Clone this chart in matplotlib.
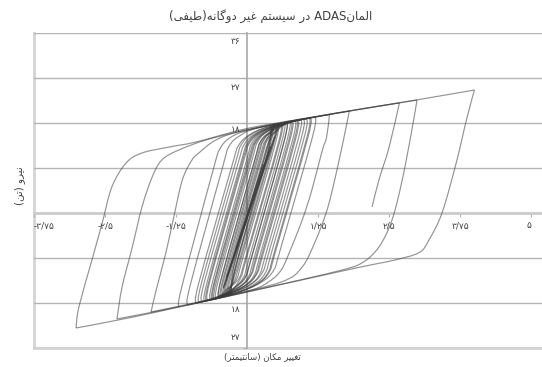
import re

import matplotlib
matplotlib.use("Agg")
import matplotlib.pyplot as plt
from matplotlib.path import Path
from matplotlib.patches import PathPatch

TITLE = "المانADAS در سیستم غیر دوگانه(طیفی)"
X_LABEL = "تغییر مکان (سانتیمتر)"
Y_LABEL = "نیرو (تن)"

X_TICKS = [-3.75, -2.5, -1.25, 0, 1.25, 2.5, 3.75, 5]
X_TICK_LABELS = ["-۳/۷۵", "-۲/۵", "-۱/۲۵", "", "۱/۲۵", "۲/۵", "۳/۷۵", "۵"]
Y_GRID = [-27, -18, -9, 0, 9, 18, 27, 36]
Y_LABEL_VALUES = [36, 27, 18, -18, -27]
Y_TICK_LABELS = ["۳۶", "۲۷", "۱۸", "۱۸", "۲۷"]

# hysteresis loops (displacement cm, force t)
outer_x = [-3.01, -2.96, -2.73, -2.55, -2.38, -2.13, -1.85, -1.37, -0.90, 0.0, 1.0, 2.0, 3.03, 4.00,
           3.86, 3.68, 3.43, 3.20, 3.03, 2.6, 2.0, 1.0, 0.0, -1.0, -2.0, -3.01]
outer_y = [-23.0, -18.8, -9.4, -2.0, 5.2, 10.0, 12.0, 13.2, 14.2, 16.9, 18.9, 20.8, 22.7, 24.6,
           18.6, 10.0, 0.0, -5.4, -7.9, -9.4, -10.8, -13.3, -15.8, -18.3, -20.8, -23.0]
loop_b_x = [-2.29, -2.20, -2.02, -1.85, -1.67, -1.50, -1.20, -0.6, 0.5, 1.5, 2.99,
            2.90, 2.73, 2.55, 2.32, 2.02, 1.6, 0.5, -1.0, -2.29]
loop_b_y = [-21.2, -14.8, -6.8, 1.2, 7.2, 10.6, 12.6, 15.0, 17.8, 19.8, 22.6,
            16.6, 6.6, -1.4, -6.8, -10.0, -11.6, -14.5, -18.3, -21.2]
loop_c_x = [-1.69, -1.60, -1.43, -1.29, -1.14, -0.97, -0.85, -0.55, -0.1, 0.8, 1.80,
            1.67, 1.50, 1.39, 1.21, 0.97, 0.6, -0.5, -1.69]
loop_c_y = [-19.8, -15.4, -8.0, -0.8, 6.6, 10.6, 12.0, 14.6, 16.4, 18.4, 20.4,
            13.2, 4.6, 0.0, -5.4, -10.8, -13.8, -16.9, -19.8]
last_x = [-1.20, -1.15, -0.60, -0.48, -0.28, 0.1, 1.0, 2.0, 2.68, 2.50, 2.32, 2.20]
last_y = [-18.8, -14.8, 8.5, 12.8, 15.2, 16.8, 18.8, 20.8, 22.0, 13.2, 6.6, 1.2]
loop_e_x = [-1.05, -1.00, -0.44, -0.32, -0.12, 0.23, 1.45, 1.40, 1.32, 1.14, 0.97, 0.74, 0.6, 0.4, 0.05, -1.05]
loop_e_y = [-18.4, -14.4, 8.8, 13.3, 15.5, 17.1, 19.7, 15.2, 12.4, 4.6, -1.4, -8.0, -11.4, -13.6, -15.5, -18.4]
loop_f_x = [-0.9, -0.85, -0.27, -0.15, 0.05, 0.40, 1.2, 1.15, 0.59, 0.47, 0.27, -0.08, -0.9]
loop_f_y = [-18.0, -14.0, 9.3, 13.5, 15.7, 17.3, 19.2, 15.2, -7.1, -11.4, -13.7, -15.5, -18.0]
loop_g_x = [-0.8, -0.75, -0.17, -0.05, 0.15, 0.50, 1.0, 0.95, 0.39, 0.27, 0.07, -0.28, -0.8]
loop_g_y = [-17.8, -13.7, 9.5, 13.7, 15.9, 17.5, 18.8, 14.8, -7.6, -11.9, -14.2, -16.0, -17.8]
loop_h_x = [-0.7, -0.65, -0.08, 0.04, 0.24, 0.59, 0.9, 0.85, 0.29, 0.17, -0.03, -0.38, -0.7]
loop_h_y = [-17.5, -13.4, 9.6, 13.9, 16.1, 17.7, 18.6, 14.6, -7.9, -12.2, -14.5, -16.3, -17.5]
loop_i_x = [-0.6, -0.55, 0.02, 0.14, 0.34, 0.69, 0.8, 0.75, 0.19, 0.07, -0.13, -0.48, -0.6]
loop_i_y = [-17.3, -13.1, 9.8, 14.1, 16.3, 17.9, 18.4, 14.4, -8.1, -12.4, -14.7, -16.5, -17.3]
loop_j_x = [-0.5, -0.45, 0.12, 0.24, 0.44, 0.7, 0.65, 0.09, -0.03, -0.23, -0.5]
loop_j_y = [-17.0, -12.9, 10.0, 14.3, 16.5, 18.2, 14.2, -8.4, -12.7, -15.0, -17.0]
loop_k_x = [-0.42, -0.37, 0.20, 0.32, 0.52, 0.6, 0.55, -0.02, -0.14, -0.34, -0.42]
loop_k_y = [-16.8, -12.7, 10.2, 14.4, 16.6, 18.0, 14.0, -8.7, -13.0, -15.3, -16.8]
loop_l_x = [-0.35, -0.30, 0.27, 0.39, 0.5, 0.45, -0.12, -0.24, -0.35]
loop_l_y = [-16.6, -12.5, 10.3, 14.6, 17.8, 13.8, -8.9, -13.2, -16.6]
loop_m_x = [-0.28, -0.23, 0.34, 0.42, 0.37, -0.20, -0.28]
loop_m_y = [-16.4, -12.3, 10.5, 17.6, 13.6, -9.1, -16.4]
loop_n1_x = [-0.65, -0.60, -0.03, 0.09, 0.29, 0.64, 1.1, 1.05, 0.49, 0.37, 0.17, -0.18, -0.65]
loop_n1_y = [-17.4, -13.4, 9.7, 14.1, 16.3, 17.9, 19.0, 15.0, -7.4, -11.9, -14.2, -16.0, -17.4]
loop_n2_x = [-0.55, -0.50, 0.07, 0.19, 0.39, 0.74, 0.95, 0.90, 0.34, 0.22, 0.02, -0.33, -0.55]
loop_n2_y = [-17.2, -13.2, 9.9, 14.3, 16.5, 18.0, 18.8, 14.8, -7.8, -12.3, -14.6, -16.3, -17.2]
loop_n3_x = [-0.45, -0.40, 0.17, 0.29, 0.49, 0.85, 0.80, 0.24, 0.12, -0.08, -0.45]
loop_n3_y = [-16.9, -12.9, 10.1, 14.5, 16.7, 18.6, 14.6, -8.0, -12.5, -14.8, -16.9]
loop_n4_x = [-0.75, -0.70, -0.12, 0.0, 0.20, 0.55, 0.75, 0.70, 0.14, 0.02, -0.18, -0.53, -0.75]
loop_n4_y = [-17.7, -13.7, 9.6, 13.9, 16.1, 17.7, 18.4, 14.4, -8.3, -12.8, -15.1, -16.8, -17.7]
loop_n5_x = [-0.38, -0.33, 0.24, 0.36, 0.56, 0.7, 0.65, 0.09, -0.03, -0.23, -0.38]
loop_n5_y = [-16.8, -12.8, 10.3, 14.6, 16.8, 18.3, 14.3, -8.4, -12.9, -15.2, -16.8]
loop_n6_x = [-0.5, -0.45, 0.12, 0.24, 0.44, 0.55, 0.50, -0.07, -0.19, -0.39, -0.5]
loop_n6_y = [-17.0, -13.0, 10.0, 14.4, 16.6, 18.0, 14.0, -8.8, -13.3, -15.6, -17.0]
loop_p1_x = [-0.62, -0.57, 0.0, 0.12, 0.32, 0.67, 0.88, 0.83, 0.27, 0.15, -0.05, -0.40, -0.62]
loop_p1_y = [-17.4, -13.4, 9.8, 14.1, 16.3, 17.9, 18.6, 14.6, -7.9, -12.4, -14.7, -16.5, -17.4]
loop_p2_x = [-0.47, -0.42, 0.15, 0.27, 0.47, 0.78, 0.73, 0.17, 0.05, -0.15, -0.47]
loop_p2_y = [-17.0, -13.0, 10.1, 14.4, 16.6, 18.4, 14.4, -8.2, -12.7, -15.0, -17.0]
loop_p3_x = [-0.33, -0.28, 0.29, 0.41, 0.62, 0.57, 0.0, -0.12, -0.33]
loop_p3_y = [-16.6, -12.6, 10.4, 14.7, 18.1, 14.1, -8.6, -13.1, -16.6]
loop_p4_x = [-0.58, -0.53, 0.04, 0.16, 0.36, 0.66, 0.61, 0.05, -0.07, -0.27, -0.58]
loop_p4_y = [-17.3, -13.3, 9.9, 14.2, 16.4, 18.2, 14.2, -8.5, -13.0, -15.3, -17.3]
loop_p5_x = [-0.40, -0.35, 0.22, 0.34, 0.52, 0.47, -0.10, -0.22, -0.40]
loop_p5_y = [-16.8, -12.8, 10.2, 14.6, 17.9, 13.9, -8.9, -13.4, -16.8]
loop_p6_x = [-0.72, -0.67, -0.10, 0.02, 0.22, 0.57, 1.05, 1.00, 0.44, 0.32, 0.12, -0.23, -0.72]
loop_p6_y = [-17.6, -13.6, 9.6, 13.9, 16.1, 17.7, 18.9, 14.9, -7.5, -12.0, -14.3, -16.1, -17.6]
loop_p7_x = [-0.85, -0.80, -0.22, -0.10, 0.10, 0.45, 1.12, 1.07, 0.51, 0.39, 0.19, -0.16, -0.85]
loop_p7_y = [-17.9, -13.9, 9.4, 13.7, 15.9, 17.5, 19.1, 15.1, -7.3, -11.8, -14.1, -15.9, -17.9]
loop_p8_x = [-0.30, -0.25, 0.32, 0.46, 0.41, -0.16, -0.30]
loop_p8_y = [-16.6, -12.6, 10.4, 17.8, 13.8, -9.0, -16.6]
elastic_x = [-0.40, 0.50, 0.46, -0.42, -0.40, -0.30, 0.38, 0.35, -0.32]
elastic_y = [-14.6, 15.6, 14.0, -15.0, -14.6, -11.0, 12.5, 11.2, -11.6]
elastic2_x = [-0.20, 0.27, 0.24, -0.22, -0.36, 0.44, 0.41, -0.37]
elastic2_y = [-7.2, 9.4, 8.2, -8.0, -12.8, 14.0, 12.8, -13.6]

LOOPS = [(outer_x, outer_y), (loop_b_x, loop_b_y), (loop_c_x, loop_c_y), (last_x, last_y),
         (loop_e_x, loop_e_y), (loop_f_x, loop_f_y), (loop_g_x, loop_g_y), (loop_h_x, loop_h_y),
         (loop_i_x, loop_i_y), (loop_j_x, loop_j_y), (loop_k_x, loop_k_y), (loop_l_x, loop_l_y),
         (loop_m_x, loop_m_y), (loop_n1_x, loop_n1_y), (loop_n2_x, loop_n2_y), (loop_n3_x, loop_n3_y),
         (loop_n4_x, loop_n4_y), (loop_n5_x, loop_n5_y), (loop_n6_x, loop_n6_y),
         (loop_p1_x, loop_p1_y), (loop_p2_x, loop_p2_y), (loop_p3_x, loop_p3_y), (loop_p4_x, loop_p4_y),
         (loop_p5_x, loop_p5_y), (loop_p6_x, loop_p6_y), (loop_p7_x, loop_p7_y), (loop_p8_x, loop_p8_y),
         (elastic_x, elastic_y), (elastic2_x, elastic2_y)]

# contextual forms (isolated, final[, initial, medial]) for the letters used
FORMS = {
    "ا": "\ufe8d\ufe8e", "د": "\ufea9\ufeaa", "ر": "\ufead\ufeae", "و": "\ufeed\ufeee",
    "ل": "\ufedd\ufede\ufedf\ufee0", "م": "\ufee1\ufee2\ufee3\ufee4",
    "ن": "\ufee5\ufee6\ufee7\ufee8", "س": "\ufeb1\ufeb2\ufeb3\ufeb4",
    "ی": "\ufbfc\ufbfd\ufbfe\ufbff", "ت": "\ufe95\ufe96\ufe97\ufe98",
    "غ": "\ufecd\ufece\ufecf\ufed0", "گ": "\ufb92\ufb93\ufb94\ufb95",
    "ه": "\ufee9\ufeea\ufeeb\ufeec", "ط": "\ufec1\ufec2\ufec3\ufec4",
    "ف": "\ufed1\ufed2\ufed3\ufed4", "ک": "\ufb8e\ufb8f\ufb90\ufb91",
}


def fa(text):
    out = []
    for i, ch in enumerate(text):
        f = FORMS.get(ch)
        if f is None:
            out.append(ch)
            continue
        prev = text[i - 1] if i > 0 else ""
        nxt = text[i + 1] if i + 1 < len(text) else ""
        jp = len(FORMS.get(prev, "")) == 4
        jn = len(f) == 4 and nxt in FORMS
        idx = 3 if (jp and jn) else 1 if jp else 2 if jn else 0
        out.append(f[idx])
    vis = "".join(out)[::-1].translate(str.maketrans("()", ")("))
    return re.sub(r"[A-Za-z0-9]+", lambda m: m.group(0)[::-1], vis)


def branches(xs, ys):
    # split a loop where displacement reverses, so peaks stay sharp
    cuts = [0]
    for i in range(1, len(xs) - 1):
        if (xs[i] - xs[i - 1]) * (xs[i + 1] - xs[i]) < 0:
            cuts.append(i)
    cuts.append(len(xs) - 1)
    return [list(zip(xs[a:b + 1], ys[a:b + 1])) for a, b in zip(cuts[:-1], cuts[1:])]


def smooth_path(pts):
    # excel-like smoothed line (catmull-rom as cubic beziers)
    verts, codes = [pts[0]], [Path.MOVETO]
    n = len(pts)
    for i in range(n - 1):
        p0 = pts[i - 1] if i > 0 else pts[i]
        p1, p2 = pts[i], pts[i + 1]
        p3 = pts[i + 2] if i + 2 < n else p2
        c1 = (p1[0] + (p2[0] - p0[0]) / 6, p1[1] + (p2[1] - p0[1]) / 6)
        c2 = (p2[0] - (p3[0] - p1[0]) / 6, p2[1] - (p3[1] - p1[1]) / 6)
        verts += [c1, c2, p2]
        codes += [Path.CURVE4] * 3
    return Path(verts, codes)


plt.rcParams["font.family"] = ["DejaVu Sans"]

fig = plt.figure(figsize=(5.42, 3.67), dpi=100)
ax = fig.add_axes([34 / 542, 19 / 367, 508 / 542, 315 / 367])
ax.set_xlim(-3.75, 5.19)
ax.set_ylim(-27, 36)

for lx, ly in LOOPS:
    for br in branches(lx, ly):
        ax.add_patch(PathPatch(smooth_path(br), fill=False, edgecolor="#3c3c3c",
                               lw=0.85, alpha=0.55, zorder=3))

for s in ["top", "right"]:
    ax.spines[s].set_visible(False)
ax.spines["left"].set_position(("data", 0))
ax.spines["left"].set_color("#a8a8a8")
ax.spines["left"].set_linewidth(1.2)
ax.spines["bottom"].set_position(("data", 0))
ax.spines["bottom"].set_color("#cccccc")
ax.spines["bottom"].set_linewidth(2)
ax.axvline(-3.75, color="#d4d4d4", lw=2, clip_on=False, zorder=1)
ax.axhline(-27, color="#d4d4d4", lw=2, clip_on=False, zorder=1)

ax.set_yticks(Y_GRID)
ax.set_yticklabels([])
ax.yaxis.grid(True, color="#b4b4b4", lw=1.0, zorder=0)
ax.set_xticks(X_TICKS)
ax.set_xticklabels(X_TICK_LABELS)
ax.tick_params(axis="x", direction="out", length=3, color="#b0b0b0", pad=3,
               labelsize=6.5, labelcolor="#404040")
ax.tick_params(axis="y", direction="out", length=3, color="#b0b0b0")
ticks = ax.xaxis.get_major_ticks()
ticks[0].label1.set_horizontalalignment("left")
ticks[-1].label1.set_horizontalalignment("right")

offsets = {36: -1.7, 27: -1.8, 18: -1.4, -18: -1.4, -27: 2.2}
for v, lab in zip(Y_LABEL_VALUES, Y_TICK_LABELS):
    ax.text(-0.12, v + offsets[v], lab, ha="right", va="center", fontsize=6.5,
            color="#404040", zorder=1)

fig.text(0.5, 1 - 16 / 367, fa(TITLE), ha="center", va="center", fontsize=8.5, color="#404040")
fig.text(262 / 542, 1 - 357 / 367, fa(X_LABEL), ha="center", va="center", fontsize=6.2, color="#404040")
fig.text(20 / 542, 1 - 186 / 367, fa(Y_LABEL), ha="center", va="center", rotation=90,
         fontsize=7.5, color="#404040")

fig.savefig("out.png", dpi=100)
